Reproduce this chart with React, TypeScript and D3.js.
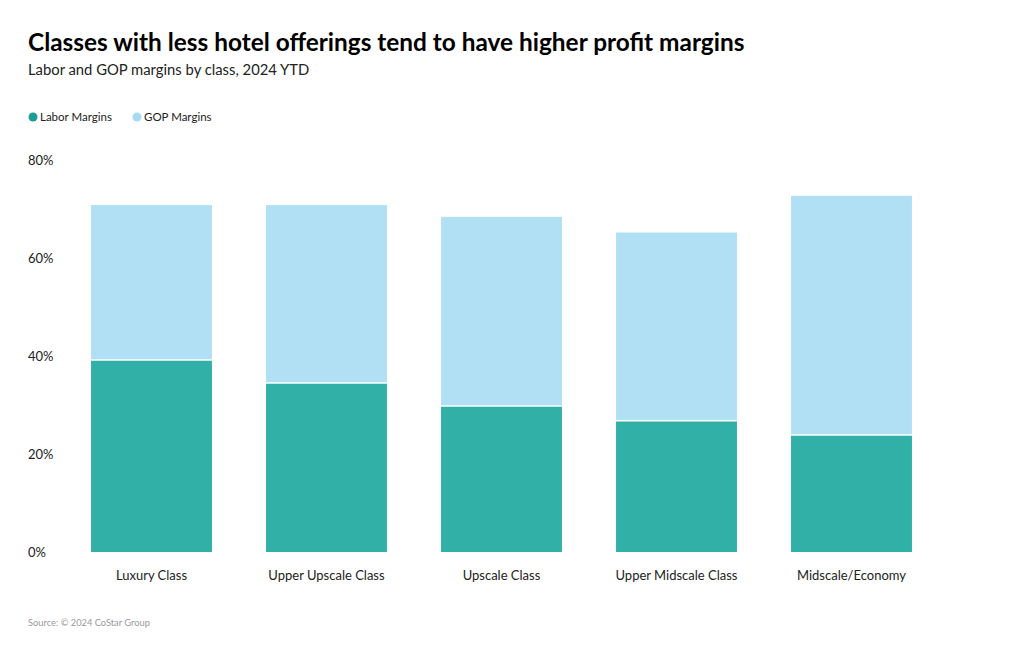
import React from "react";
import * as d3 from "d3";

const categories = ["Luxury Class", "Upper Upscale Class", "Upscale Class", "Upper Midscale Class", "Midscale/Economy"];
const laborMargins = [39.2, 34.5, 29.8, 26.8, 23.9];
const gopMargins = [31.6, 36.3, 38.6, 38.4, 48.8];
const yTicks = [0, 20, 40, 60, 80];
const seriesNames = ["Labor Margins", "GOP Margins"];
const seriesColors = ["#31b0a8", "#b1e0f5"];

const W = 1020;
const H = 650;
const FONT = "'Source Sans Pro', Lato, 'Open Sans', sans-serif";

export default function App() {
  const x = d3.scaleBand<string>().domain(categories).range([64, 939]).paddingInner(0.309).paddingOuter(0.1545);
  const y = d3.scaleLinear().domain([0, 80]).range([552, 160]);
  const stackData = categories.map((c, i) => ({ cat: c, labor: laborMargins[i], gop: gopMargins[i] }));
  const stack = d3.stack<any>().keys(["labor", "gop"])(stackData);

  return (
    <svg width={W} height={H} style={{ position: "absolute", left: 0, top: 0, fontFamily: FONT }}>
      <rect width={W} height={H} fill="#fff" />
      <text x={28} y={51} fontSize={24.4} fontWeight={700} fill="#000">Classes with less hotel offerings tend to have higher profit margins</text>
      <text x={28} y={75} fontSize={14.8} fill="#222">Labor and GOP margins by class, 2024 YTD</text>
      {seriesNames.map((s, i) => (
        <g key={s} transform={`translate(${i === 0 ? 33 : 137},117)`}>
          <circle cx={0} cy={0} r={4.5} fill={i === 0 ? "#1a9e95" : "#a6dbf3"} />
          <text x={7} y={4} fontSize={11.5} fill="#222">{s}</text>
        </g>
      ))}
      {yTicks.map((t) => (
        <text key={t} x={28} y={y(t) + 5} fontSize={13} fill="#222">{t}%</text>
      ))}
      {stack.map((layer, li) => (
        <g key={li} fill={seriesColors[li]}>
          {layer.map((d: any) => (
            <rect
              key={d.data.cat}
              x={x(d.data.cat)!}
              y={y(d[1])}
              width={x.bandwidth()}
              height={y(d[0]) - y(d[1])}
            />
          ))}
        </g>
      ))}
      {stack[0].map((d: any) => (
        <line key={d.data.cat} x1={x(d.data.cat)!} x2={x(d.data.cat)! + x.bandwidth()} y1={y(d[1])} y2={y(d[1])} stroke="#fff" strokeWidth={1.5} />
      ))}
      {categories.map((c) => (
        <text key={c} x={x(c)! + x.bandwidth() / 2} y={580} textAnchor="middle" fontSize={13} fill="#222">{c}</text>
      ))}
      <text x={28} y={626} fontSize={9.3} fill="#999">Source: © 2024 CoStar Group</text>
    </svg>
  );
}
